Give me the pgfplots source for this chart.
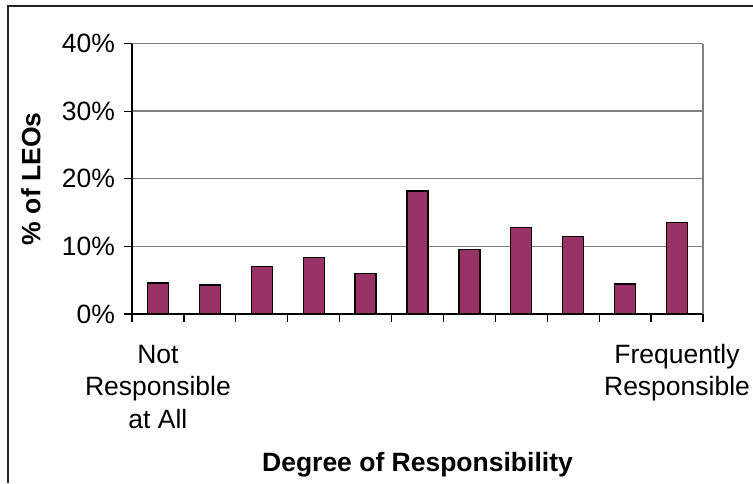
\documentclass[border=0pt]{standalone}
\usepackage{pgfplots}
\pgfplotsset{compat=1.18}
\usepackage{fontspec}
\setmainfont{Liberation Sans}
\definecolor{barcol}{RGB}{153,51,102}
\definecolor{gridcol}{RGB}{128,128,128}
\begin{document}
\fontsize{26.5}{32.5}\selectfont
\begin{tikzpicture}
\path[use as bounding box] (-132pt,-169pt) rectangle (621pt,314pt);
\draw[line width=1.3pt, black!85] (-124pt,-169pt) -- (-124pt,308pt) -- (621pt,308pt);
\begin{axis}[
  at={(0pt,0pt)}, anchor=south west,
  scale only axis, width=571pt, height=270.5pt,
  xmin=0.5, xmax=11.5, ymin=0, ymax=40,
  axis lines=left, axis line style={-, line width=1.2pt, black},
  xtick={0.5,1.5,...,11.5}, xticklabels={},
  ytick={0,10,20,30,40},
  yticklabels={0\%,10\%,20\%,30\%,40\%},
  tick align=outside, major tick length=8pt,
  tick style={line width=1.2pt, black},
  ymajorgrids, grid style={line width=1.3pt, gridcol},
  yticklabel style={font=\fontsize{26.5}{32.5}\selectfont},
  clip=false,
]
\addplot[ybar, bar width=21pt, fill=barcol, draw=black, line width=1.2pt]
  coordinates {(1,4.59) (2,4.30) (3,7.01) (4,8.35) (5,6.02) (6,18.2) (7,9.53) (8,12.79) (9,11.41) (10,4.44) (11,13.48)};
\draw[gridcol, line width=1.3pt] (rel axis cs:1,0) -- (rel axis cs:1,1);
\node[anchor=base, align=center, inner sep=0pt] at ([yshift=-114pt]axis cs:1,0) {Not\\Responsible\\at All};
\node[anchor=base, align=center, inner sep=0pt] at ([yshift=-81.5pt]axis cs:11,0) {Frequently\\Responsible};
\node[anchor=base, inner sep=0pt, font=\bfseries] at ([yshift=-157pt]rel axis cs:0.5,0) {Degree of Responsibility};
\node[rotate=90, anchor=center, inner sep=0pt, font=\bfseries] at ([xshift=-101pt]rel axis cs:0,0.5) {\% of LEOs};
\end{axis}
\end{tikzpicture}
\end{document}
